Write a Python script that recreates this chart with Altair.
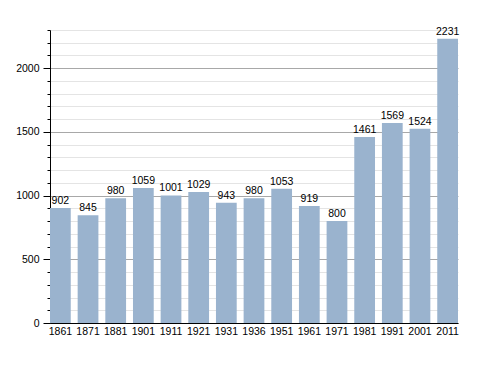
import altair as alt
import pandas as pd

years = ["1861", "1871", "1881", "1901", "1911", "1921", "1931", "1936",
         "1951", "1961", "1971", "1981", "1991", "2001", "2011"]
population = [902, 845, 980, 1059, 1001, 1029, 943, 980,
              1053, 919, 800, 1461, 1569, 1524, 2231]
major_ticks = [0, 500, 1000, 1500, 2000]
minor_ticks = list(range(0, 2301, 100))

df = pd.DataFrame({"year": years, "pop": population})

FONT = "Liberation Sans"
FS = 10.5
yscale = alt.Scale(domain=[0, 2300], nice=False, zero=True)
xenc = alt.X("year:N", sort=None,
             scale=alt.Scale(paddingInner=0.25, paddingOuter=0),
             axis=alt.Axis(title=None, ticks=False, labelAngle=0, labelFontSize=FS,
                           labelColor="black", domainColor="black", labelPadding=3,
                           labelFont=FONT))

bars = alt.Chart(df).mark_bar(color="#9ab3ce").encode(
    x=xenc,
    y=alt.Y("pop:Q", scale=yscale,
            axis=alt.Axis(values=minor_ticks, labels=False, tickSize=3, title=None,
                          domain=False, tickColor="black",
                          gridColor={"condition": {"test": "datum.value % 500 === 0",
                                                   "value": "#a8a8a8"},
                                     "value": "#e4e4e4"})),
)

text = alt.Chart(df).mark_text(baseline="alphabetic", dy=-4, fontSize=FS,
                               font=FONT, color="black").encode(
    x=xenc,
    y=alt.Y("pop:Q", scale=yscale,
            axis=alt.Axis(values=major_ticks, orient="left", tickSize=7, title=None,
                          grid=False, domainColor="black", tickColor="black",
                          labelFontSize=FS, labelColor="black", labelFont=FONT,
                          labelPadding=4, format="d")),
    text="pop:Q",
)

chart = alt.layer(bars, text).resolve_axis(y="independent").properties(
    width=408, height=293,
    autosize=alt.AutoSizeParams(type="none"),
    padding={"left": 42, "top": 22, "right": 22, "bottom": 35},
).configure_view(stroke=None)

chart.save("out.html", embed_options={"renderer": "svg", "actions": False})
